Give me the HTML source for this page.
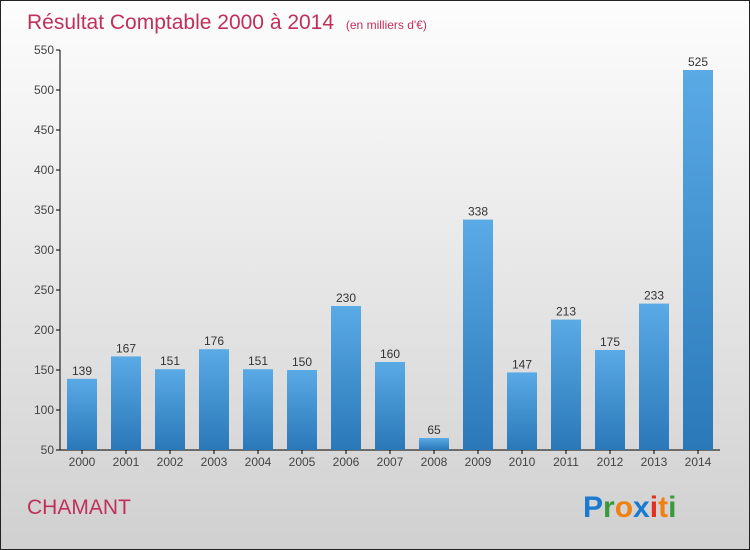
<!DOCTYPE html>
<html><head><meta charset="utf-8"><style>
body{margin:0;width:750px;height:550px;overflow:hidden}
svg{display:block;font-family:"Liberation Sans",sans-serif}
</style></head><body>
<svg id="c" width="750" height="550">
<defs>
<linearGradient id="bg" x1="0" y1="0" x2="0" y2="1"><stop offset="0" stop-color="#fdfdfd"/><stop offset="1" stop-color="#d0d0d0"/></linearGradient>
<linearGradient id="bar" x1="0" y1="0" x2="0" y2="1"><stop offset="0" stop-color="#5aaae6"/><stop offset="1" stop-color="#2a78b8"/></linearGradient>
</defs>
<rect x="0.5" y="0.5" width="749" height="549" fill="url(#bg)" stroke="#222"/>
<text x="27" y="29" font-size="21" fill="#c0305a">Résultat Comptable 2000 à 2014 <tspan font-size="12" dx="6">(en milliers d'€)</tspan></text>
<text x="27" y="514" font-size="21" fill="#c0305a">CHAMANT</text>
<g font-size="30" font-weight="bold">
<text x="583" y="517" fill="#1a7ad0">P<tspan fill="#3a9a3a">r</tspan><tspan fill="#f08010">o</tspan><tspan fill="#1a7ad0">x</tspan><tspan fill="#e03020">i</tspan><tspan fill="#f08010">t</tspan><tspan fill="#3a9a3a">i</tspan></text>
</g>
<g id="axes"></g><g id="bars"></g>
</svg>
<script>
const years=["2000","2001","2002","2003","2004","2005","2006","2007","2008","2009","2010","2011","2012","2013","2014"];
const values=[139,167,151,176,151,150,230,160,65,338,147,213,175,233,525];
const yTicks=[50,100,150,200,250,300,350,400,450,500,550];
const NS="http://www.w3.org/2000/svg";
const y=v=>450-(v-50)*0.8;
const x=i=>82+i*44;
function mk(t,a,p){const e=document.createElementNS(NS,t);for(const k in a)e.setAttribute(k,a[k]);p.appendChild(e);return e;}
const ax=document.getElementById('axes'),bs=document.getElementById('bars');
const yl=mk('line',{x1:60,y1:50,x2:60,y2:450,stroke:'#000'},ax);


const xl=mk('line',{x1:60,y1:450,x2:720,y2:450,stroke:'#000'},ax);


yTicks.forEach(v=>{
 mk('line',{x1:56,x2:60,y1:y(v),y2:y(v),stroke:'#000'},ax);
 const t=mk('text',{x:54,y:y(v)+4,'text-anchor':'end','font-size':12,fill:'#444'},ax);t.textContent=v;
 
 
});
years.forEach((yr,i)=>{
 const r=mk('rect',{x:x(i)-15,y:y(values[i]),width:30,height:450-y(values[i]),fill:'url(#bar)'},bs);
 
 
 const l=mk('text',{x:x(i),y:y(values[i])-4,'text-anchor':'middle','font-size':12,fill:'#333'},bs);l.textContent=values[i];
 
 
 mk('line',{x1:x(i),x2:x(i),y1:450,y2:454,stroke:'#000'},ax);
 const t=mk('text',{x:x(i),y:466,'text-anchor':'middle','font-size':12,fill:'#444'},ax);t.textContent=yr;
 
 
});
</script>
</body></html>
